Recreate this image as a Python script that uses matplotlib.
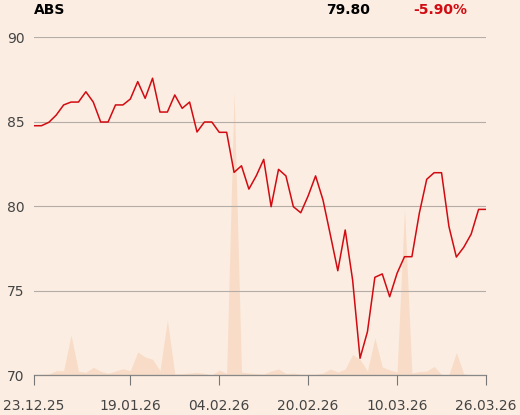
import matplotlib
matplotlib.use('Agg')
from matplotlib import pyplot as plt

# data (one point per trading day)
price = [84.75, 84.75, 84.95, 85.38, 85.98, 86.15, 86.15, 86.76, 86.15, 84.97,
         84.97, 85.98, 85.98, 86.33, 87.36, 86.37, 87.56, 85.56, 85.56, 86.57,
         85.78, 86.15, 84.38, 84.97, 84.97, 84.36, 84.36, 81.99, 82.38, 81.00,
         81.79, 82.76, 79.96, 82.17, 81.78, 79.96, 79.60, 80.60, 81.78, 80.36,
         78.28, 76.17, 78.58, 75.62, 70.99, 72.56, 75.78, 75.98, 74.63, 76.02,
         77.00, 77.00, 79.57, 81.58, 81.97, 81.97, 78.78, 76.98, 77.56, 78.34,
         79.80, 79.80]
volume = [0.5, 0.7, 1, 4.3, 4.3, 40, 3.7, 2.7, 7.7, 3.7,
          1.7, 4, 6.3, 4.3, 23, 18, 15.7, 4.3, 55, 1,
          1.3, 2, 2.7, 1.7, 0, 5, 1.7, 283, 3, 2,
          1.5, 1, 4, 6, 1.5, 2, 0.7, 0.7, 0.7, 2,
          6, 3, 6, 20.5, 15.5, 4, 37, 8, 5, 3,
          166, 2, 3.5, 4, 8.5, 0.5, 0.5, 22.5, 1, 0,
          0, 0]
tick_pos = [0, 13, 25, 37, 49, 61]
tick_labels = ['23.12.25', '19.01.26', '04.02.26', '20.02.26', '10.03.26', '26.03.26']
y_ticks = [70, 75, 80, 85, 90]

bg = '#fbede1'
x = list(range(len(price)))

fig = plt.figure(figsize=(5.2, 4.15), dpi=100, facecolor=bg)
ax = fig.add_axes([34 / 520, 1 - 375 / 415, 452 / 520, 338 / 415])
ax2 = ax.twinx()
ax.set_zorder(ax2.get_zorder() + 1)
ax.patch.set_visible(False)
ax2.set_facecolor(bg)

# volume in the background
ax2.fill_between(x, volume, 0, color='#f8dcc7', linewidth=0)
ax2.set_ylim(0, 338)
ax2.set_yticks([])
for s in ax2.spines.values():
    s.set_visible(False)

# price line
ax.plot(x, price, color='#d20a11', linewidth=1.1, zorder=3)
ax.set_xlim(0, len(price) - 1)
ax.set_ylim(70, 90)
ax.set_yticks(y_ticks)
ax.set_yticklabels([str(t) for t in y_ticks])
ax.grid(axis='y', color='#b3aca7', linewidth=0.8)
ax.set_axisbelow(False)
ax.set_xticks(tick_pos)
ax.set_xticklabels(tick_labels)
ax.tick_params(axis='y', length=0, pad=7, labelsize=10, labelcolor='#444444')
ax.tick_params(axis='x', length=7, width=0.8, color='#777777', pad=10,
               labelsize=10, labelcolor='#444444')
for side in ['top', 'right', 'left']:
    ax.spines[side].set_visible(False)
ax.spines['bottom'].set_color('#888888')
ax.spines['bottom'].set_linewidth(0.9)

fig.text(34 / 520, 1 - 10 / 415, 'ABS', fontsize=10, fontweight='bold',
         color='black', ha='left', va='center')
fig.text(370 / 520, 1 - 10 / 415, '79.80', fontsize=10, fontweight='bold',
         color='black', ha='right', va='center')
fig.text(467 / 520, 1 - 10 / 415, '-5.90%', fontsize=10, fontweight='bold',
         color='#d20a11', ha='right', va='center')

fig.savefig('out.png', dpi=100, facecolor=bg)
